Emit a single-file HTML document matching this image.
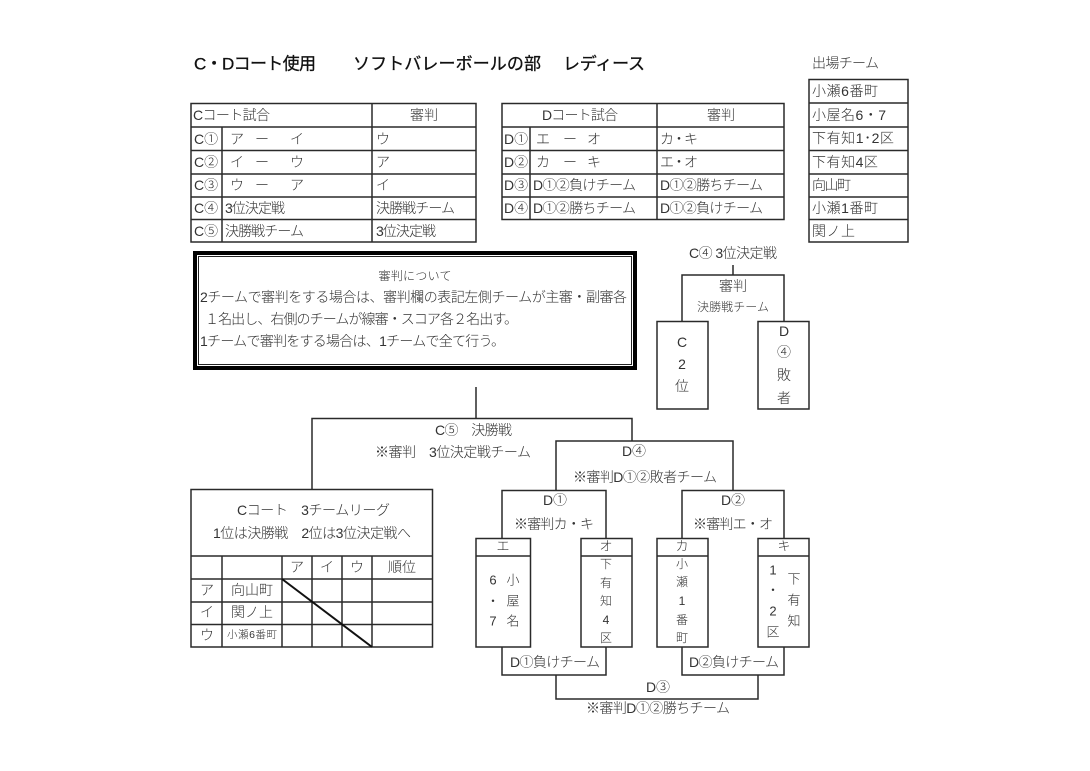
<!DOCTYPE html>
<html lang="ja"><head><meta charset="utf-8"><title>C・Dコート使用</title>
<style>
html,body{margin:0;padding:0;background:#fff;width:1090px;height:771px;overflow:hidden}
svg{display:block}
text{font-family:"Liberation Sans","Noto Sans CJK JP",sans-serif;font-size:14px;fill:#333;dominant-baseline:central;font-weight:300}
.m{text-anchor:middle}
.s{font-size:13px}
.x{font-size:12px}
.ttl{font-size:17px;fill:#111;font-weight:400;stroke:#111;stroke-width:.3}
.l{stroke:#2a2a2a;stroke-width:1.5;fill:none}
</style></head><body>
<svg width="1090" height="771" viewBox="0 0 1090 771" xmlns="http://www.w3.org/2000/svg">
<rect width="1090" height="771" fill="#fff"/>
<text x="194" y="64" textLength="122" class="ttl">C・Dコート使用</text>
<text x="353" y="64" textLength="188" class="ttl">ソフトバレーボールの部</text>
<text x="563" y="64" textLength="82" class="ttl">レディース</text>

<!-- C table -->
<path class="l" d="M191 103.500H476V242H191ZM191 127H476M191 150.500H476M191 174H476M191 197H476M191 219.500H476M222 127V242M372 103.500V242"/>
<text x="193" y="115" textLength="77">Cコート試合</text><text x="424" y="115" class="m">審判</text>
<text x="194" y="139">C①</text><text x="237" y="139" class="m">ア</text><text x="262" y="139" class="m">ー</text><text x="297" y="139" class="m">イ</text><text x="376" y="139">ウ</text>
<text x="194" y="162">C②</text><text x="237" y="162" class="m">イ</text><text x="262" y="162" class="m">ー</text><text x="297" y="162" class="m">ウ</text><text x="376" y="162">ア</text>
<text x="194" y="185">C③</text><text x="237" y="185" class="m">ウ</text><text x="262" y="185" class="m">ー</text><text x="297" y="185" class="m">ア</text><text x="376" y="185">イ</text>
<text x="194" y="208">C④</text><text x="225" y="208" textLength="60">3位決定戦</text><text x="376" y="208" textLength="79">決勝戦チーム</text>
<text x="194" y="231">C⑤</text><text x="225" y="231" textLength="79">決勝戦チーム</text><text x="376" y="231" textLength="60">3位決定戦</text>

<!-- D table -->
<path class="l" d="M502 103.500H784V219.500H502ZM502 127H784M502 150.500H784M502 174H784M502 197H784M530 127V219.500M657 103.500V219.500"/>
<text x="580" y="115" class="m" textLength="76">Dコート試合</text><text x="721" y="115" class="m">審判</text>
<text x="504" y="139">D①</text><text x="543" y="139" class="m">エ</text><text x="570" y="139" class="m">ー</text><text x="594" y="139" class="m">オ</text><text x="660" y="139" textLength="38">カ・キ</text>
<text x="504" y="162">D②</text><text x="543" y="162" class="m">カ</text><text x="570" y="162" class="m">ー</text><text x="594" y="162" class="m">キ</text><text x="660" y="162" textLength="38">エ・オ</text>
<text x="504" y="185">D③</text><text x="533" y="185" textLength="103">D①②負けチーム</text><text x="660" y="185" textLength="103">D①②勝ちチーム</text>
<text x="504" y="208">D④</text><text x="533" y="208" textLength="103">D①②勝ちチーム</text><text x="660" y="208" textLength="103">D①②負けチーム</text>

<!-- Teams -->
<text x="812" y="63" textLength="67">出場チーム</text>
<path class="l" d="M809 79.500H908V242H809ZM809 103H908M809 127H908M809 150.500H908M809 174H908M809 197H908M809 219.500H908"/>
<text x="812" y="91" textLength="66">小瀬6番町</text>
<text x="812" y="115" textLength="74">小屋名6・7</text>
<text x="812" y="138" textLength="82">下有知1･2区</text>
<text x="812" y="162" textLength="66">下有知4区</text>
<text x="812" y="185" textLength="39">向山町</text>
<text x="812" y="208" textLength="66">小瀬1番町</text>
<text x="812" y="231" textLength="43">関ノ上</text>

<!-- Referee note -->
<rect x="195" y="253" width="440" height="115" fill="none" stroke="#000" stroke-width="4"/>
<rect x="198.500" y="256.500" width="433" height="108" fill="none" stroke="#222" stroke-width="1"/>
<text x="415" y="276" class="m x" textLength="73">審判について</text>
<text x="200" y="297" textLength="427">2チームで審判をする場合は、審判欄の表記左側チームが主審・副審各</text>
<text x="205" y="319" textLength="313">１名出し、右側のチームが線審・スコア各２名出す。</text>
<text x="200" y="341" textLength="305">1チームで審判をする場合は、1チームで全て行う。</text>

<!-- Final bracket -->
<path class="l" d="M476 387V418M312 489V418.500H632V441"/>
<text x="435" y="430" textLength="77">C⑤　決勝戦</text>
<text x="375" y="452" textLength="156">※審判　3位決定戦チーム</text>

<path class="l" d="M556 490V441H733V490"/>
<text x="634" y="451" class="m">D④</text>
<text x="573" y="477" textLength="144">※審判D①②敗者チーム</text>

<path class="l" d="M502 538V490.500H606V538M682 538V490.500H784V538"/>
<text x="555" y="500" class="m">D①</text><text x="514" y="524" textLength="80">※審判カ・キ</text>
<text x="733" y="500" class="m">D②</text><text x="693" y="524" textLength="80">※審判エ・オ</text>

<path class="l" d="M476 538.500H530.500V647H476ZM476 556H530.500M581 538.500H632V647H581ZM581 556H632M657 538.500H708V647H657ZM657 556H708M758 538.500H809V647H758ZM758 556H809"/>
<text x="503" y="546" class="m s">エ</text><text x="606" y="546" class="m s">オ</text><text x="682" y="546" class="m s">カ</text><text x="784" y="546" class="m s">キ</text>
<text x="493" y="580" class="m s">6</text><text x="493" y="601" class="m s">・</text><text x="493" y="621" class="m s">7</text>
<text x="513" y="580" class="m s">小</text><text x="513" y="601" class="m s">屋</text><text x="513" y="621" class="m s">名</text>
<text x="606" y="564" class="m x">下</text><text x="606" y="583" class="m x">有</text><text x="606" y="601" class="m x">知</text><text x="606" y="620" class="m x">4</text><text x="606" y="638" class="m x">区</text>
<text x="682" y="564" class="m x">小</text><text x="682" y="582" class="m x">瀬</text><text x="682" y="601" class="m x">1</text><text x="682" y="620" class="m x">番</text><text x="682" y="638" class="m x">町</text>
<text x="773" y="570" class="m s">1</text><text x="773" y="590" class="m s">・</text><text x="773" y="611" class="m s">2</text><text x="773" y="632" class="m s">区</text>
<text x="794" y="579" class="m s">下</text><text x="794" y="600" class="m s">有</text><text x="794" y="621" class="m s">知</text>

<path class="l" d="M502 647V675H606V647M682 647V675H784V647M556 675V699H758V675"/>
<text x="510" y="662" textLength="90">D①負けチーム</text>
<text x="689" y="662" textLength="90">D②負けチーム</text>
<text x="658" y="687" class="m">D③</text>
<text x="586" y="708" textLength="144">※審判D①②勝ちチーム</text>

<!-- C league -->
<path class="l" d="M191 489.500H432.500V647H191ZM191 556H432.500M191 579H432.500M191 602H432.500M191 624.500H432.500M222 556V647M282 556V647M312 556V647M342 556V647M372 556V647"/>
<path d="M282 579L372 647" stroke="#111" stroke-width="2" fill="none"/>
<text x="237" y="510" textLength="153">Cコート　3チームリーグ</text>
<text x="213" y="533" textLength="198">1位は決勝戦　2位は3位決定戦へ</text>
<text x="297" y="567" class="m">ア</text><text x="327" y="567" class="m">イ</text><text x="357" y="567" class="m">ウ</text><text x="402" y="567" class="m">順位</text>
<text x="207" y="590" class="m">ア</text><text x="252" y="590" class="m">向山町</text>
<text x="207" y="612" class="m">イ</text><text x="252" y="612" class="m">関ノ上</text>
<text x="207" y="635" class="m">ウ</text><text x="252" y="635" class="m" textLength="50" style="font-size:10.500px">小瀬6番町</text>

<!-- C4 -->
<text x="689" y="253" textLength="88">C④ 3位決定戦</text>
<path class="l" d="M733 265V275M682 321V275H784V321M657 321.500H708V409H657ZM758 321.500H809V409H758Z"/>
<text x="733" y="286" class="m">審判</text>
<text x="733" y="307" class="m x" textLength="72">決勝戦チーム</text>
<text x="682" y="342" class="m">C</text><text x="682" y="364" class="m">2</text><text x="682" y="386" class="m">位</text>
<text x="784" y="331" class="m">D</text><text x="784" y="352" class="m">④</text><text x="784" y="375" class="m">敗</text><text x="784" y="398" class="m">者</text>
</svg>
</body></html>
